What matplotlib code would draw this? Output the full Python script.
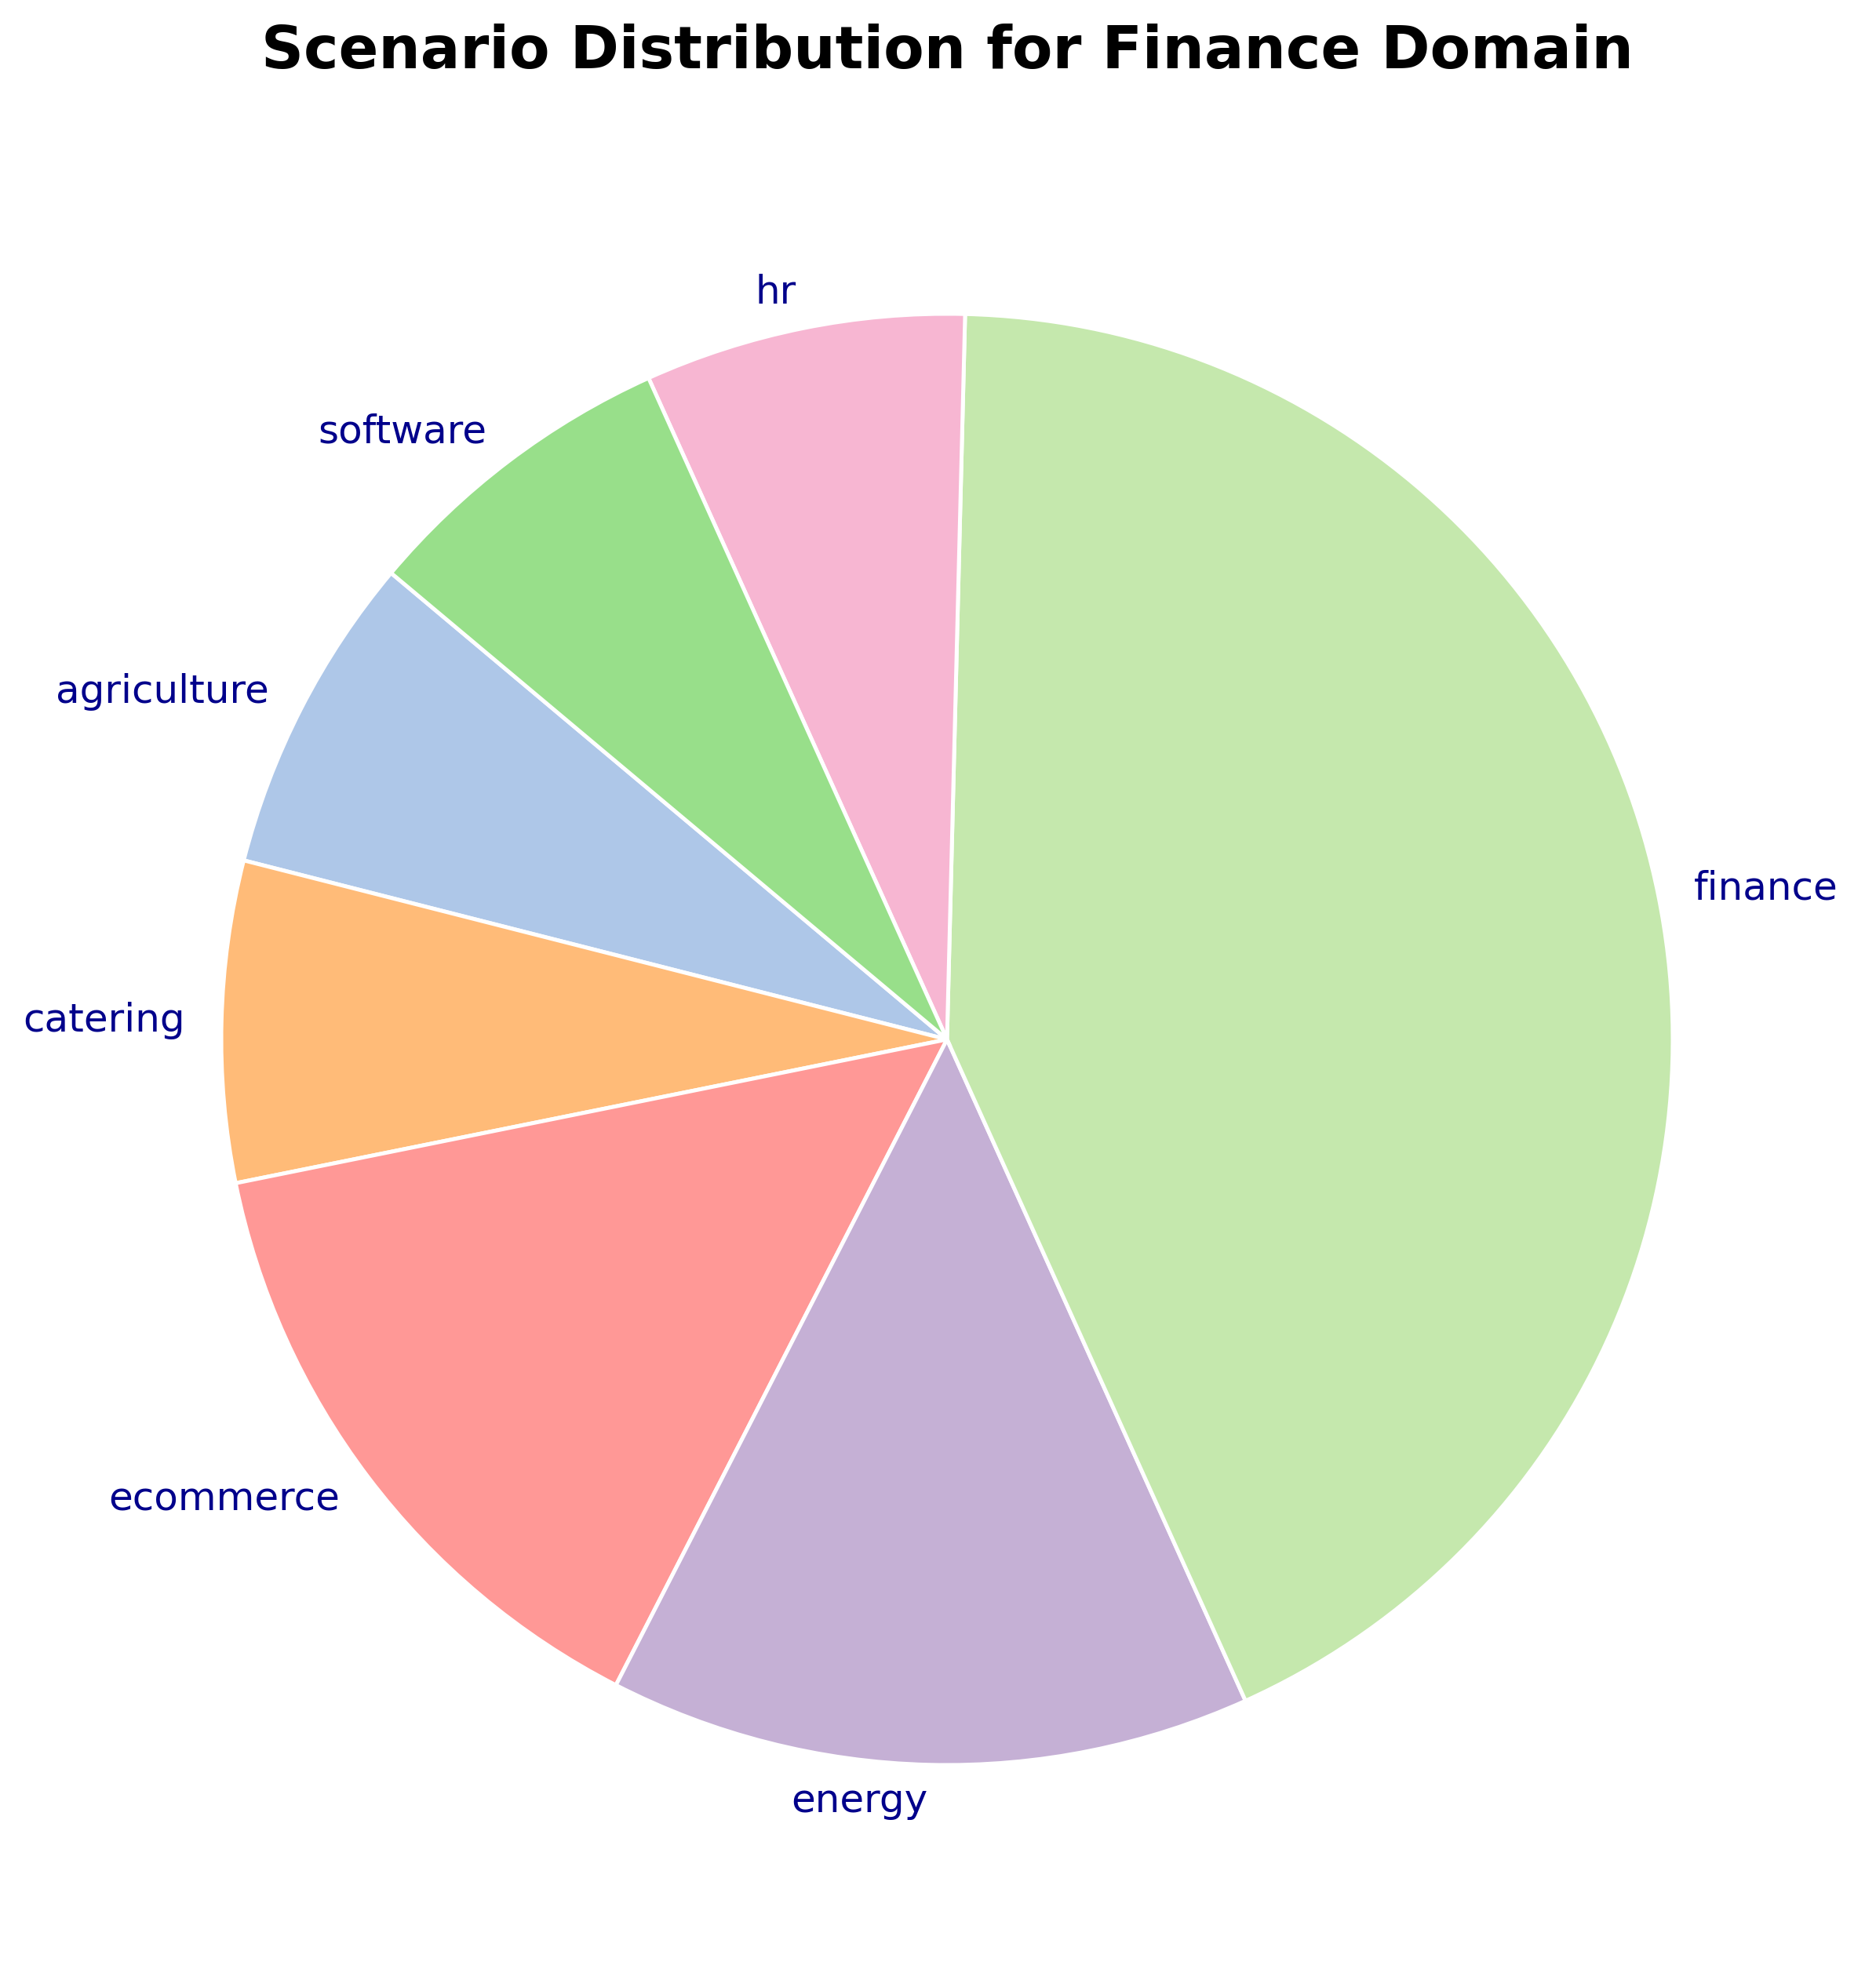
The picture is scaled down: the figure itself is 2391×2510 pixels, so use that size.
import matplotlib

matplotlib.use("Agg")
import matplotlib.pyplot as plt

# Scenario counts (alphabetical order, drawn counter-clockwise from 140 deg)
scenarios = ["agriculture", "catering", "ecommerce", "energy", "finance", "hr", "software"]
counts = [1, 1, 2, 2, 6, 1, 1]
colors = ["#aec7e8", "#ffbb78", "#ff9896", "#c5b0d5", "#c5e8ad", "#f7b6d2", "#98df8a"]

W, H, DPI = 2391, 2510, 300
fig = plt.figure(figsize=(W / DPI, H / DPI), dpi=DPI)

# axes placed so the pie sits where it does in the reference
side = 2312.5
ax = fig.add_axes([(1207 - side / 2) / W, (H - 1325 - side / 2) / H, side / W, side / H])

ax.pie(
    counts,
    labels=scenarios,
    colors=colors,
    startangle=140,
    labeldistance=1.05,
    wedgeprops={"edgecolor": "white", "linewidth": 1.2},
    textprops={"color": "darkblue", "fontsize": 12},
)
ax.set_aspect("equal")

# title centred over the pie, not the figure
fig.text(1207 / W, 1 - 66 / H, "Scenario Distribution for Finance Domain",
         ha="center", va="center", fontsize=18, fontweight="bold")

fig.savefig("out.png", dpi=DPI)
